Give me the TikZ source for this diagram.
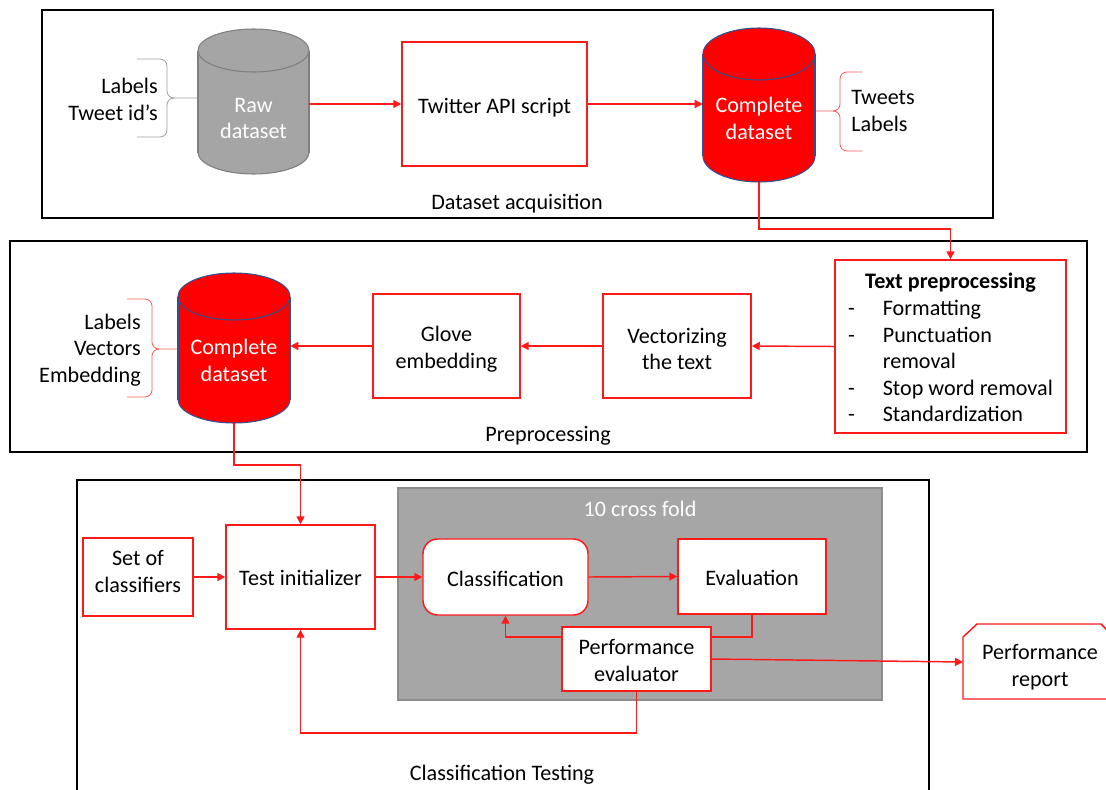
\documentclass[tikz,border=0pt]{standalone}
\usepackage{fontspec}
\setmainfont{Carlito}
\usetikzlibrary{arrows.meta,fit,calc}
\definecolor{pptred}{HTML}{FF1A1A}
\definecolor{cylred}{HTML}{FF0000}
\definecolor{cylblue}{HTML}{2F528F}
\definecolor{cylgray}{HTML}{A5A5A5}
\definecolor{cylgrayb}{HTML}{7F7F7F}
\definecolor{foldgray}{HTML}{A6A6A6}
\definecolor{foldgrayb}{HTML}{8C8C8C}
\definecolor{bracegray}{HTML}{A0A0A0}
\definecolor{bracered}{HTML}{FF5A5A}
\newcommand{\drawcyl}[7]{%
  \fill[#6] (#1,#4) ellipse [x radius=#2, y radius=#5];
  \draw[#7, line width=0.8pt] (#1,#4) ellipse [x radius=#2, y radius=#5];
  \fill[#6] (#1-#2,#3) rectangle (#1+#2,#4);
  \draw[#7, line width=0.8pt] (#1-#2,#3) -- (#1-#2,#4) (#1+#2,#3) -- (#1+#2,#4);
  \filldraw[fill=#6, draw=#7, line width=0.8pt] (#1,#3) ellipse [x radius=#2, y radius=#5];
}
% text inside a box node, shifted down by #2 px
\newcommand{\btxt}[3]{\node[align=center] (#1t) at ($(#1.center)+(0,#2)$) {#3};}
\begin{document}
\begin{tikzpicture}[x=0.75pt,y=-0.75pt,
  every node/.style={font=\fontsize{16.6}{19.9}\selectfont, inner sep=0pt},
  frame/.style={draw=black, line width=1pt},
  redbox/.style={draw=pptred, line width=1.1pt, fill=white, align=center},
  sz/.style 2 args={minimum width=#1*0.75pt, minimum height=#2*0.75pt},
  conn/.style={draw=pptred, line width=1.1pt},
  arr/.style={conn, -{Triangle[length=6pt,width=6pt]}},
  brace/.style={line width=0.6pt},
  ]
\useasboundingbox (0,0) rectangle (1106,789);

% ---------- frames ----------
\draw[frame] (42,10) rectangle (993,218);
\draw[frame] (10,241) rectangle (1087,452);
\draw[frame] (77,480) rectangle (929,800);
\node (acqlab) at (517,203.5) {Dataset acquisition};
\node (prelab) at (548,436) {Preprocessing};
\node (clslab) at (502,775) {Classification Testing};

% ---------- dataset acquisition ----------
\drawcyl{253.5}{55.5}{50.5}{152.5}{21.5}{cylgray}{cylgrayb}
\node[fit={(198,29) (309,174)}] (raw) {};
\node[text=white, align=center] (rawtxt) at (253.5,118.5) {Raw\\dataset};

\draw[brace, bracegray] (137,59) -- (160,59) to[out=0,in=90] (167,66) -- (167,91)
  to[out=270,in=180] (174,98) -- (197,98);
\draw[brace, bracegray] (174,98) to[out=180,in=90] (167,105) -- (167,130)
  to[out=270,in=0] (160,137) -- (137,137);
\node[anchor=east, align=right] (rawlab) at (158,99.5) {Labels\\Tweet id’s};

\node[redbox, sz={185}{124}] (twitter) at (494.5,104) {};
\btxt{twitter}{4}{Twitter API script}

\drawcyl{759}{56}{54}{156}{26}{cylred}{cylblue}
\node[fit={(703,28) (815,182)}] (comp1) {};
\node[text=white, align=center] (comp1txt) at (759,118.5) {Complete\\dataset};

\draw[brace, bracered] (862,72) -- (847,72) to[out=180,in=90] (840,79) -- (840,104)
  to[out=270,in=0] (833,111) -- (816,111);
\draw[brace, bracered] (833,111) to[out=0,in=90] (840,118) -- (840,144)
  to[out=270,in=180] (847,151) -- (862,151);
\node[anchor=west, align=left] (comp1lab) at (851,111) {Tweets\\Labels};

\draw[arr] (raw.east |- twitter.west) -- (twitter.west);
\draw[arr] (twitter.east) -- (comp1.west |- twitter.east);

% ---------- preprocessing ----------
\node[redbox, sz={231}{173}] (textpre) at (950.5,346.5) {};
\btxt{textpre}{3.5}{%
  \begin{tabular}{@{}p{26pt}@{}l@{}}
  \multicolumn{2}{@{}c@{}}{\textbf{Text preprocessing}}\\
  - & Formatting\\
  - & Punctuation\\
    & removal\\
  - & Stop word removal\\
  - & Standardization
  \end{tabular}}

\node[redbox, sz={148}{104}] (vector) at (677,346) {};
\btxt{vector}{3}{Vectorizing\\the text}
\node[redbox, sz={147}{104}] (glove) at (446.5,346) {};
\btxt{glove}{3}{Glove\\embedding}

\drawcyl{234}{56}{296.5}{399.5}{23.5}{cylred}{cylblue}
\node[fit={(178,273) (290,423)}] (comp2) {};
\node[text=white, align=center] (comp2txt) at (234,360.5) {Complete\\dataset};

\draw[brace, bracered] (127,299) -- (145,299) to[out=0,in=90] (152,306) -- (152,342)
  to[out=270,in=180] (159,349) -- (177,349);
\draw[brace, bracered] (159,349) to[out=180,in=90] (152,356) -- (152,390)
  to[out=270,in=0] (145,397) -- (127,397);
\node[anchor=east, align=right] (comp2lab) at (141,350) {Labels\\Vectors\\Embedding};

\coordinate (k1) at (950.5,229);
\draw[arr] (comp1.south) |- (k1) -| (textpre.north);
\draw[arr] (textpre.west) -- (vector.east);
\draw[arr] (vector.west) -- (glove.east);
\draw[arr] (glove.west) -- (comp2.east |- glove.west);

% ---------- classification testing ----------
\node[fill=foldgray, draw=foldgrayb, line width=0.8pt, sz={484}{212}] (fold) at (640,594) {};
\node[text=white] (foldlab) at (640,508.5) {10 cross fold};

\node[redbox, sz={110}{78}] (set) at (138,577) {};
\node[align=center] (settxt) at (138,571.5) {Set of\\classifiers};
\node[redbox, sz={149}{104}] (testinit) at (300.5,577) {};
\btxt{testinit}{1}{Test initializer}
\node[redbox, rounded corners=11pt, sz={165}{76}] (class) at (505.5,577) {};
\btxt{class}{2}{Classification}
\node[redbox, sz={148}{75}] (eval) at (752,576.5) {};
\btxt{eval}{1.5}{Evaluation}

\coordinate (k3) at (600,637);
\draw[arr] (eval.south) |- (k3) -| (class.south);

\node[redbox, sz={149}{64}] (perf) at (636.5,659) {};
\btxt{perf}{1.5}{Performance\\evaluator}

\draw[pptred, line width=1.1pt, fill=white] (977,624) -- (1101,624) -- (1108,631) -- (1108,699)
  -- (963,699) -- (963,637) -- cycle;
\node[align=center] (report) at (1040,667) {Performance\\report};
\coordinate (reportW) at (963,662);

\coordinate (k2) at (300.5,465);
\draw[arr] (comp2.south) |- (k2) -| (testinit.north);
\draw[arr] (set.east) -- (testinit.west);
\draw[arr] (testinit.east) -- (class.west);
\draw[arr] (class.east) -- (eval.west);
\draw[arr] (perf.east) -- (reportW);
\coordinate (k4) at (450,733);
\draw[arr] (perf.south) |- (k4) -| (testinit.south);
\end{tikzpicture}
\end{document}
